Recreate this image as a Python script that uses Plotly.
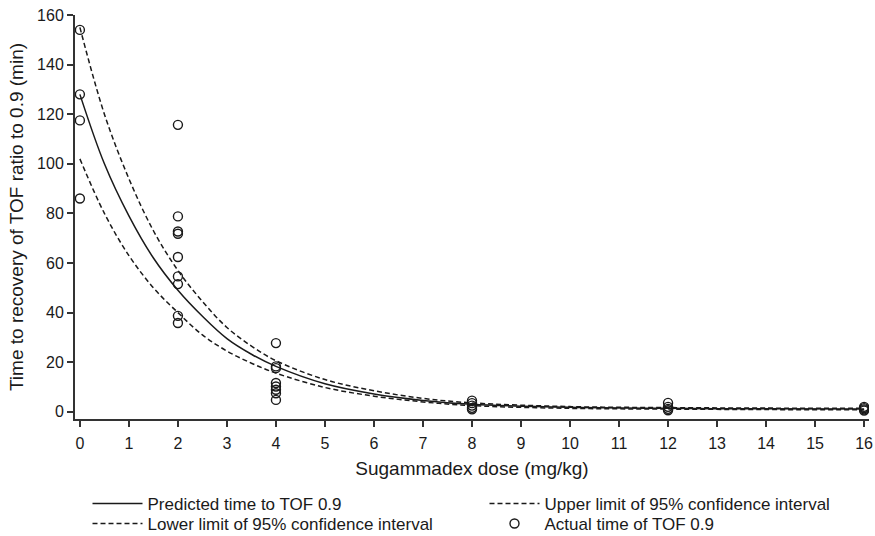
import plotly.graph_objects as go

# Curve values (dose in mg/kg, time in min)
curve_dose = [0, 0.5, 1, 1.5, 2, 2.5, 3, 3.5, 4, 5, 6, 7, 8, 10, 12, 14, 16]
predicted = [128, 100, 79, 62, 49, 38.5, 29.5, 23.2, 18.3, 11.3, 7.2, 4.6, 3.0, 1.8, 1.4, 1.2, 1.1]
upper_ci = [155, 120, 94, 73, 57, 44.5, 34, 26.5, 20.6, 13.0, 8.5, 5.4, 3.6, 2.1, 1.7, 1.5, 1.4]
lower_ci = [102, 80, 63, 50, 40, 31, 24.5, 19.6, 15.6, 9.8, 6.3, 4.0, 2.5, 1.4, 1.1, 0.9, 0.8]

# Observed times of TOF 0.9
obs_dose = [0, 0, 0, 0,
            2, 2, 2, 2, 2, 2, 2, 2, 2,
            4, 4, 4, 4, 4, 4, 4, 4,
            8, 8, 8, 8, 8,
            12, 12, 12, 12,
            16, 16, 16, 16]
obs_time = [154, 128, 117.5, 86,
            115.7, 78.8, 72.7, 71.8, 62.4, 54.6, 51.5, 38.7, 35.8,
            27.7, 18.3, 17.6, 11.6, 10.2, 8.9, 7.5, 4.8,
            4.5, 3.5, 2.5, 1.6, 1.0,
            3.6, 2.0, 1.2, 0.6,
            2.0, 1.5, 1.0, 0.5]

x_ticks = list(range(0, 17))
y_ticks = list(range(0, 161, 20))

FONT = "Liberation Sans, Arial, sans-serif"
INK = "#1a1a1a"

fig = go.Figure()
fig.add_trace(go.Scatter(x=curve_dose, y=predicted, mode="lines", line_shape="spline",
                         line=dict(color=INK, width=1.5), legend="legend",
                         name="Predicted time to TOF 0.9"))
fig.add_trace(go.Scatter(x=curve_dose, y=upper_ci, mode="lines", line_shape="spline",
                         line=dict(color=INK, width=1.5, dash="5px,3px"), legend="legend",
                         name="Upper limit of 95% confidence interval"))
fig.add_trace(go.Scatter(x=curve_dose, y=lower_ci, mode="lines", line_shape="spline",
                         line=dict(color=INK, width=1.5, dash="5px,3px"), legend="legend2",
                         name="Lower limit of 95% confidence interval"))
fig.add_trace(go.Scatter(x=obs_dose, y=obs_time, mode="markers", legend="legend2",
                         marker=dict(symbol="circle-open", size=9, color=INK,
                                     line=dict(width=1.4, color=INK)),
                         name="Actual time of TOF 0.9"))

legend_common = dict(orientation="h", xref="container", x=0.1, xanchor="left",
                     yref="container", yanchor="top",
                     entrywidth=332, entrywidthmode="pixels", itemwidth=50,
                     font=dict(family=FONT, size=17, color=INK),
                     tracegroupgap=0, traceorder="normal", bgcolor="rgba(0,0,0,0)")

fig.update_layout(
    width=875, height=536,
    margin=dict(l=75, r=6, t=15, b=117, autoexpand=False),
    paper_bgcolor="white", plot_bgcolor="white",
    font=dict(family=FONT, size=16, color=INK),
    showlegend=True,
    legend=dict(legend_common, y=1 - 486 / 536),
    legend2=dict(legend_common, y=1 - 506 / 536),
)
fig.update_xaxes(range=[-0.1, 16.1], tickmode="array", tickvals=x_ticks,
                 ticks="outside", ticklen=6, tickwidth=1.5, tickcolor="#333",
                 ticklabelstandoff=3,
                 showline=True, linecolor="#333", linewidth=2,
                 showgrid=False, zeroline=False, automargin=False,
                 title=dict(text="Sugammadex dose (mg/kg)", standoff=10))
fig.update_yaxes(range=[-2.9, 160], tickmode="array", tickvals=y_ticks,
                 ticks="outside", ticklen=6, tickwidth=1.5, tickcolor="#333",
                 showline=True, linecolor="#333", linewidth=2,
                 showgrid=False, zeroline=False, automargin=False,
                 title=dict(text="Time to recovery of TOF ratio to 0.9 (min)", standoff=8))

fig.write_html("out.html", config={"displayModeBar": False},
               post_script="document.body.style.margin='0';")
